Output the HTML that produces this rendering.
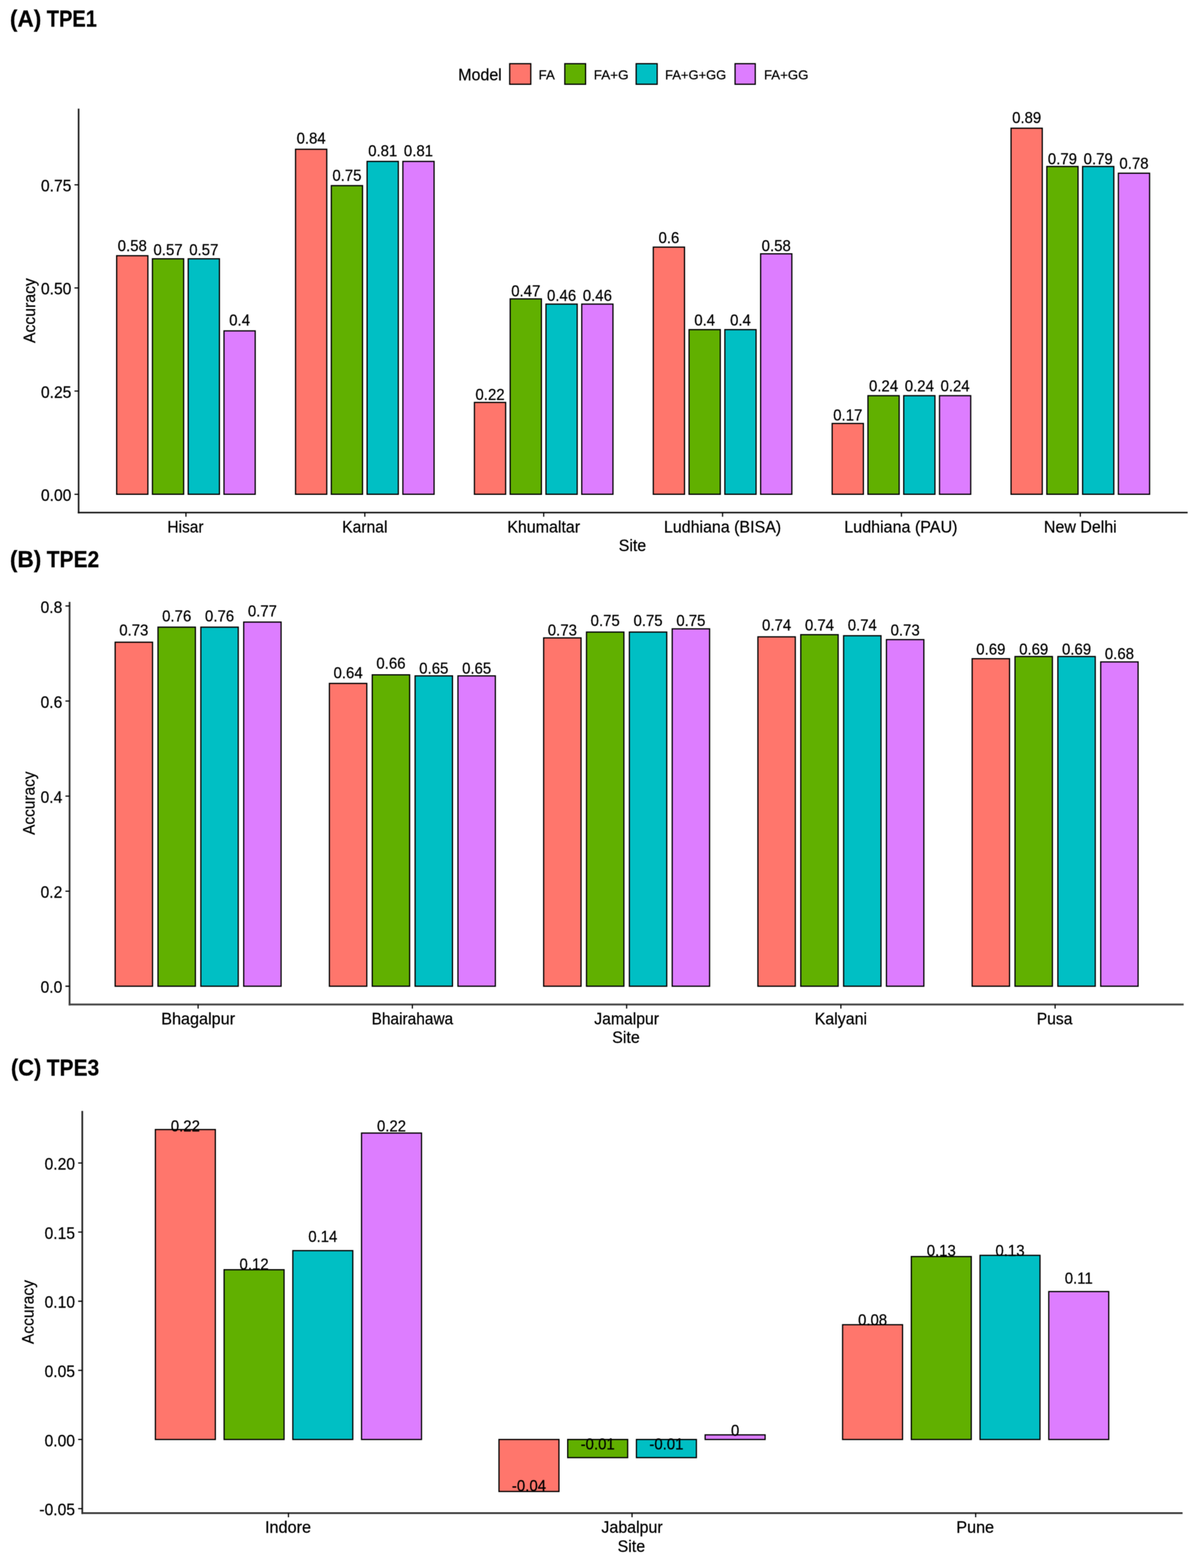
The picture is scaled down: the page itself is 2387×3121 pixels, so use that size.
<!DOCTYPE html>
<html lang="en">
<head>
<meta charset="utf-8">
<title>Prediction accuracy by site: TPE1, TPE2, TPE3</title>
<style>
html, body { margin: 0; padding: 0; background: #fff; }
body { width: 2387px; height: 3121px; overflow: hidden; }
svg { display: block; font-family: "Liberation Sans", Arial, Helvetica, sans-serif; }
#chart { filter: url(#soft); }
text { stroke: #000; stroke-width: 0.4px; }
rect { stroke: #000; stroke-width: 2.4px; stroke-linejoin: miter; }
.ax { fill: none; stroke: #000; stroke-width: 3.0px; stroke-linecap: butt; }
.tk { fill: none; stroke: #000; stroke-width: 2.3px; stroke-linecap: butt; }
.ttl { font-size: 46px; font-weight: bold; fill: #000; }
.lab { font-size: 30.99px; text-anchor: middle; fill: #000; }
.xt { font-size: 33.07px; text-anchor: middle; fill: #000; }
.yt { font-size: 33.07px; text-anchor: end; fill: #000; }
.lg { font-size: 26.56px; text-anchor: start; fill: #000; }
</style>
</head>
<body>
<svg width="2387" height="3121" viewBox="0 0 2387 3121">
<defs><filter id="soft" x="0" y="0" width="2387" height="3121" filterUnits="userSpaceOnUse" color-interpolation-filters="sRGB"><feConvolveMatrix order="3" kernelMatrix="0.04 0.12 0.04 0.12 0.36 0.12 0.04 0.12 0.04" divisor="1" edgeMode="duplicate" preserveAlpha="false"/></filter></defs>
<rect x="0" y="0" width="2387" height="3121" fill="#fff" style="stroke:none"/>
<g id="chart">
<text class="ttl" y="52.9"><tspan x="19.7" textLength="62.5" lengthAdjust="spacingAndGlyphs">(A)</tspan> <tspan x="93.0" textLength="100.0" lengthAdjust="spacingAndGlyphs">TPE1</tspan></text>
<rect x="232.26" y="509.00" width="62.14" height="474.80" fill="#FF766C"/>
<rect x="303.49" y="515.10" width="62.14" height="468.70" fill="#61B000"/>
<rect x="374.71" y="515.10" width="62.14" height="468.70" fill="#00BFC4"/>
<rect x="445.93" y="658.60" width="62.14" height="325.20" fill="#DD7DFF"/>
<rect x="588.38" y="297.10" width="62.14" height="686.70" fill="#FF766C"/>
<rect x="659.60" y="369.50" width="62.14" height="614.30" fill="#61B000"/>
<rect x="730.82" y="321.30" width="62.14" height="662.50" fill="#00BFC4"/>
<rect x="802.04" y="321.30" width="62.14" height="662.50" fill="#DD7DFF"/>
<rect x="944.49" y="801.00" width="62.14" height="182.80" fill="#FF766C"/>
<rect x="1015.71" y="594.90" width="62.14" height="388.90" fill="#61B000"/>
<rect x="1086.93" y="605.30" width="62.14" height="378.50" fill="#00BFC4"/>
<rect x="1158.16" y="605.30" width="62.14" height="378.50" fill="#DD7DFF"/>
<rect x="1300.60" y="491.90" width="62.14" height="491.90" fill="#FF766C"/>
<rect x="1371.82" y="656.10" width="62.14" height="327.70" fill="#61B000"/>
<rect x="1443.05" y="656.10" width="62.14" height="327.70" fill="#00BFC4"/>
<rect x="1514.27" y="505.20" width="62.14" height="478.60" fill="#DD7DFF"/>
<rect x="1656.71" y="842.90" width="62.14" height="140.90" fill="#FF766C"/>
<rect x="1727.94" y="787.60" width="62.14" height="196.20" fill="#61B000"/>
<rect x="1799.16" y="787.60" width="62.14" height="196.20" fill="#00BFC4"/>
<rect x="1870.38" y="787.60" width="62.14" height="196.20" fill="#DD7DFF"/>
<rect x="2012.83" y="255.20" width="62.14" height="728.60" fill="#FF766C"/>
<rect x="2084.05" y="331.40" width="62.14" height="652.40" fill="#61B000"/>
<rect x="2155.27" y="331.40" width="62.14" height="652.40" fill="#00BFC4"/>
<rect x="2226.50" y="344.80" width="62.14" height="639.00" fill="#DD7DFF"/>
<text class="lab" x="263.33" y="499.95" textLength="58.00" lengthAdjust="spacingAndGlyphs">0.58</text>
<text class="lab" x="334.56" y="508.16" textLength="58.00" lengthAdjust="spacingAndGlyphs">0.57</text>
<text class="lab" x="405.78" y="508.16" textLength="58.00" lengthAdjust="spacingAndGlyphs">0.57</text>
<text class="lab" x="477.00" y="647.78" textLength="41.43" lengthAdjust="spacingAndGlyphs">0.4</text>
<text class="lab" x="619.45" y="286.41" textLength="58.00" lengthAdjust="spacingAndGlyphs">0.84</text>
<text class="lab" x="690.67" y="360.33" textLength="58.00" lengthAdjust="spacingAndGlyphs">0.75</text>
<text class="lab" x="761.89" y="311.05" textLength="58.00" lengthAdjust="spacingAndGlyphs">0.81</text>
<text class="lab" x="833.11" y="311.05" textLength="58.00" lengthAdjust="spacingAndGlyphs">0.81</text>
<text class="lab" x="975.56" y="795.61" textLength="58.00" lengthAdjust="spacingAndGlyphs">0.22</text>
<text class="lab" x="1046.78" y="590.29" textLength="58.00" lengthAdjust="spacingAndGlyphs">0.47</text>
<text class="lab" x="1118.00" y="598.50" textLength="58.00" lengthAdjust="spacingAndGlyphs">0.46</text>
<text class="lab" x="1189.23" y="598.50" textLength="58.00" lengthAdjust="spacingAndGlyphs">0.46</text>
<text class="lab" x="1331.67" y="483.52" textLength="41.43" lengthAdjust="spacingAndGlyphs">0.6</text>
<text class="lab" x="1402.90" y="647.78" textLength="41.43" lengthAdjust="spacingAndGlyphs">0.4</text>
<text class="lab" x="1474.12" y="647.78" textLength="41.43" lengthAdjust="spacingAndGlyphs">0.4</text>
<text class="lab" x="1545.34" y="499.95" textLength="58.00" lengthAdjust="spacingAndGlyphs">0.58</text>
<text class="lab" x="1687.79" y="836.68" textLength="58.00" lengthAdjust="spacingAndGlyphs">0.17</text>
<text class="lab" x="1759.01" y="779.19" textLength="58.00" lengthAdjust="spacingAndGlyphs">0.24</text>
<text class="lab" x="1830.23" y="779.19" textLength="58.00" lengthAdjust="spacingAndGlyphs">0.24</text>
<text class="lab" x="1901.45" y="779.19" textLength="58.00" lengthAdjust="spacingAndGlyphs">0.24</text>
<text class="lab" x="2043.90" y="245.34" textLength="58.00" lengthAdjust="spacingAndGlyphs">0.89</text>
<text class="lab" x="2115.12" y="327.47" textLength="58.00" lengthAdjust="spacingAndGlyphs">0.79</text>
<text class="lab" x="2186.34" y="327.47" textLength="58.00" lengthAdjust="spacingAndGlyphs">0.79</text>
<text class="lab" x="2257.57" y="335.69" textLength="58.00" lengthAdjust="spacingAndGlyphs">0.78</text>
<path class="ax" style="stroke:#222;stroke-width:3.3px" d="M156.50 216.30V1021.65"/>
<path class="ax" style="stroke:#111;stroke-width:2.9px" d="M154.85 1020.20H2364.40"/>
<text class="yt" x="142.10" y="997.10" textLength="60.66" lengthAdjust="spacingAndGlyphs">0.00</text>
<text class="yt" x="142.10" y="791.77" textLength="60.66" lengthAdjust="spacingAndGlyphs">0.25</text>
<text class="yt" x="142.10" y="586.45" textLength="60.66" lengthAdjust="spacingAndGlyphs">0.50</text>
<text class="yt" x="142.10" y="381.13" textLength="60.66" lengthAdjust="spacingAndGlyphs">0.75</text>
<text class="xt" x="369.27" y="1059.60" textLength="71.83" lengthAdjust="spacingAndGlyphs">Hisar</text>
<text class="xt" x="726.28" y="1059.60" textLength="90.09" lengthAdjust="spacingAndGlyphs">Karnal</text>
<text class="xt" x="1082.39" y="1059.60" textLength="144.94" lengthAdjust="spacingAndGlyphs">Khumaltar</text>
<text class="xt" x="1438.51" y="1059.60" textLength="233.35" lengthAdjust="spacingAndGlyphs">Ludhiana (BISA)</text>
<text class="xt" x="1793.52" y="1059.60" textLength="225.48" lengthAdjust="spacingAndGlyphs">Ludhiana (PAU)</text>
<text class="xt" x="2150.73" y="1059.60" textLength="144.92" lengthAdjust="spacingAndGlyphs">New Delhi</text>
<path class="tk" d="M148.30 983.80H156.50M148.30 778.47H156.50M148.30 573.15H156.50M148.30 367.83H156.50M370.17 1020.20V1028.40M726.28 1020.20V1028.40M1082.39 1020.20V1028.40M1438.51 1020.20V1028.40M1794.62 1020.20V1028.40M2150.73 1020.20V1028.40"/>
<text class="xt" x="1259.15" y="1097.10" textLength="54.80" lengthAdjust="spacingAndGlyphs">Site</text>
<text class="xt" x="0.00" y="0.00" textLength="129.07" lengthAdjust="spacingAndGlyphs" transform="translate(69.8 618.25) rotate(-90)">Accuracy</text>
<text class="xt" x="912.30" y="160.20" textLength="86.62" lengthAdjust="spacingAndGlyphs" style="text-anchor:start">Model</text>
<rect x="1014.70" y="126.8" width="42.0" height="40.9" fill="#FF766C"/>
<text class="lg" x="1072.30" y="157.90" textLength="32.16" lengthAdjust="spacingAndGlyphs">FA</text>
<rect x="1124.40" y="126.8" width="41.4" height="40.9" fill="#61B000"/>
<text class="lg" x="1182.00" y="157.90" textLength="69.33" lengthAdjust="spacingAndGlyphs">FA+G</text>
<rect x="1266.50" y="126.8" width="41.8" height="40.9" fill="#00BFC4"/>
<text class="lg" x="1324.10" y="157.90" textLength="121.76" lengthAdjust="spacingAndGlyphs">FA+G+GG</text>
<rect x="1463.40" y="126.8" width="40.2" height="40.9" fill="#DD7DFF"/>
<text class="lg" x="1521.00" y="157.90" textLength="88.43" lengthAdjust="spacingAndGlyphs">FA+GG</text>
<text class="ttl" y="1128.8"><tspan x="19.7" textLength="62.5" lengthAdjust="spacingAndGlyphs">(B)</tspan> <tspan x="93.0" textLength="104.5" lengthAdjust="spacingAndGlyphs">TPE2</tspan></text>
<rect x="229.25" y="1278.30" width="74.43" height="684.70" fill="#FF766C"/>
<rect x="314.55" y="1248.30" width="74.43" height="714.70" fill="#61B000"/>
<rect x="399.86" y="1248.30" width="74.43" height="714.70" fill="#00BFC4"/>
<rect x="485.17" y="1238.20" width="74.43" height="724.80" fill="#DD7DFF"/>
<rect x="655.78" y="1360.30" width="74.43" height="602.70" fill="#FF766C"/>
<rect x="741.09" y="1343.20" width="74.43" height="619.80" fill="#61B000"/>
<rect x="826.40" y="1345.30" width="74.43" height="617.70" fill="#00BFC4"/>
<rect x="911.71" y="1345.30" width="74.43" height="617.70" fill="#DD7DFF"/>
<rect x="1082.32" y="1269.70" width="74.43" height="693.30" fill="#FF766C"/>
<rect x="1167.63" y="1258.10" width="74.43" height="704.90" fill="#61B000"/>
<rect x="1252.94" y="1258.10" width="74.43" height="704.90" fill="#00BFC4"/>
<rect x="1338.25" y="1251.70" width="74.43" height="711.30" fill="#DD7DFF"/>
<rect x="1508.86" y="1267.60" width="74.43" height="695.40" fill="#FF766C"/>
<rect x="1594.17" y="1263.30" width="74.43" height="699.70" fill="#61B000"/>
<rect x="1679.48" y="1265.40" width="74.43" height="697.60" fill="#00BFC4"/>
<rect x="1764.78" y="1273.10" width="74.43" height="689.90" fill="#DD7DFF"/>
<rect x="1935.40" y="1311.10" width="74.43" height="651.90" fill="#FF766C"/>
<rect x="2020.71" y="1306.80" width="74.43" height="656.20" fill="#61B000"/>
<rect x="2106.02" y="1306.80" width="74.43" height="656.20" fill="#00BFC4"/>
<rect x="2191.32" y="1317.50" width="74.43" height="645.50" fill="#DD7DFF"/>
<text class="lab" x="266.46" y="1264.92" textLength="58.00" lengthAdjust="spacingAndGlyphs">0.73</text>
<text class="lab" x="351.77" y="1236.54" textLength="58.00" lengthAdjust="spacingAndGlyphs">0.76</text>
<text class="lab" x="437.08" y="1236.54" textLength="58.00" lengthAdjust="spacingAndGlyphs">0.76</text>
<text class="lab" x="522.38" y="1227.08" textLength="58.00" lengthAdjust="spacingAndGlyphs">0.77</text>
<text class="lab" x="693.00" y="1350.06" textLength="58.00" lengthAdjust="spacingAndGlyphs">0.64</text>
<text class="lab" x="778.31" y="1331.14" textLength="58.00" lengthAdjust="spacingAndGlyphs">0.66</text>
<text class="lab" x="863.62" y="1340.60" textLength="58.00" lengthAdjust="spacingAndGlyphs">0.65</text>
<text class="lab" x="948.92" y="1340.60" textLength="58.00" lengthAdjust="spacingAndGlyphs">0.65</text>
<text class="lab" x="1119.54" y="1264.92" textLength="58.00" lengthAdjust="spacingAndGlyphs">0.73</text>
<text class="lab" x="1204.85" y="1246.00" textLength="58.00" lengthAdjust="spacingAndGlyphs">0.75</text>
<text class="lab" x="1290.15" y="1246.00" textLength="58.00" lengthAdjust="spacingAndGlyphs">0.75</text>
<text class="lab" x="1375.46" y="1246.00" textLength="58.00" lengthAdjust="spacingAndGlyphs">0.75</text>
<text class="lab" x="1546.08" y="1255.46" textLength="58.00" lengthAdjust="spacingAndGlyphs">0.74</text>
<text class="lab" x="1631.38" y="1255.46" textLength="58.00" lengthAdjust="spacingAndGlyphs">0.74</text>
<text class="lab" x="1716.69" y="1255.46" textLength="58.00" lengthAdjust="spacingAndGlyphs">0.74</text>
<text class="lab" x="1802.00" y="1264.92" textLength="58.00" lengthAdjust="spacingAndGlyphs">0.73</text>
<text class="lab" x="1972.62" y="1302.76" textLength="58.00" lengthAdjust="spacingAndGlyphs">0.69</text>
<text class="lab" x="2057.92" y="1302.76" textLength="58.00" lengthAdjust="spacingAndGlyphs">0.69</text>
<text class="lab" x="2143.23" y="1302.76" textLength="58.00" lengthAdjust="spacingAndGlyphs">0.69</text>
<text class="lab" x="2228.54" y="1312.22" textLength="58.00" lengthAdjust="spacingAndGlyphs">0.68</text>
<path class="ax" style="stroke:#333;stroke-width:3.5px" d="M138.50 1198.00V2001.30"/>
<path class="ax" style="stroke:#444;stroke-width:3.8px" d="M136.75 1999.40H2356.50"/>
<text class="yt" x="124.10" y="1976.30" textLength="43.32" lengthAdjust="spacingAndGlyphs">0.0</text>
<text class="yt" x="124.10" y="1787.10" textLength="43.32" lengthAdjust="spacingAndGlyphs">0.2</text>
<text class="yt" x="124.10" y="1597.90" textLength="43.32" lengthAdjust="spacingAndGlyphs">0.4</text>
<text class="yt" x="124.10" y="1408.70" textLength="43.32" lengthAdjust="spacingAndGlyphs">0.6</text>
<text class="yt" x="124.10" y="1219.50" textLength="43.32" lengthAdjust="spacingAndGlyphs">0.8</text>
<text class="xt" x="394.42" y="2038.80" textLength="147.02" lengthAdjust="spacingAndGlyphs">Bhagalpur</text>
<text class="xt" x="820.96" y="2038.80" textLength="162.58" lengthAdjust="spacingAndGlyphs">Bhairahawa</text>
<text class="xt" x="1247.50" y="2038.80" textLength="128.96" lengthAdjust="spacingAndGlyphs">Jamalpur</text>
<text class="xt" x="1674.04" y="2038.80" textLength="104.30" lengthAdjust="spacingAndGlyphs">Kalyani</text>
<text class="xt" x="2099.48" y="2038.80" textLength="71.03" lengthAdjust="spacingAndGlyphs">Pusa</text>
<path class="tk" d="M130.30 1963.00H138.50M130.30 1773.80H138.50M130.30 1584.60H138.50M130.30 1395.40H138.50M130.30 1206.20H138.50M394.42 1999.40V2007.60M820.96 1999.40V2007.60M1247.50 1999.40V2007.60M1674.04 1999.40V2007.60M2100.58 1999.40V2007.60"/>
<text class="xt" x="1246.20" y="2076.30" textLength="54.80" lengthAdjust="spacingAndGlyphs">Site</text>
<text class="xt" x="0.00" y="0.00" textLength="126.20" lengthAdjust="spacingAndGlyphs" transform="translate(69.3 1598.70) rotate(-90)">Accuracy</text>
<text class="ttl" y="2140.6"><tspan x="21.8" textLength="60.5" lengthAdjust="spacingAndGlyphs">(C)</tspan> <tspan x="93.0" textLength="104.5" lengthAdjust="spacingAndGlyphs">TPE3</tspan></text>
<rect x="309.33" y="2248.30" width="119.37" height="616.90" fill="#FF766C"/>
<rect x="446.15" y="2527.30" width="119.37" height="337.90" fill="#61B000"/>
<rect x="582.96" y="2489.30" width="119.37" height="375.90" fill="#00BFC4"/>
<rect x="719.77" y="2255.30" width="119.37" height="609.90" fill="#DD7DFF"/>
<rect x="993.40" y="2865.20" width="119.37" height="103.50" fill="#FF766C"/>
<rect x="1130.21" y="2865.20" width="119.37" height="36.10" fill="#61B000"/>
<rect x="1267.02" y="2865.20" width="119.37" height="36.10" fill="#00BFC4"/>
<rect x="1403.83" y="2856.00" width="119.37" height="9.20" fill="#DD7DFF"/>
<rect x="1677.46" y="2636.80" width="119.37" height="228.40" fill="#FF766C"/>
<rect x="1814.27" y="2501.10" width="119.37" height="364.10" fill="#61B000"/>
<rect x="1951.08" y="2498.70" width="119.37" height="366.50" fill="#00BFC4"/>
<rect x="2087.90" y="2570.80" width="119.37" height="294.40" fill="#DD7DFF"/>
<text class="lab" x="369.02" y="2252.26" textLength="58.00" lengthAdjust="spacingAndGlyphs">0.22</text>
<text class="lab" x="505.83" y="2527.46" textLength="58.00" lengthAdjust="spacingAndGlyphs">0.12</text>
<text class="lab" x="642.64" y="2472.42" textLength="58.00" lengthAdjust="spacingAndGlyphs">0.14</text>
<text class="lab" x="779.46" y="2252.26" textLength="58.00" lengthAdjust="spacingAndGlyphs">0.22</text>
<text class="lab" x="1053.08" y="2967.78" textLength="67.93" lengthAdjust="spacingAndGlyphs">-0.04</text>
<text class="lab" x="1189.89" y="2885.22" textLength="67.93" lengthAdjust="spacingAndGlyphs">-0.01</text>
<text class="lab" x="1326.71" y="2885.22" textLength="67.93" lengthAdjust="spacingAndGlyphs">-0.01</text>
<text class="lab" x="1463.52" y="2857.70" textLength="16.57" lengthAdjust="spacingAndGlyphs">0</text>
<text class="lab" x="1737.14" y="2637.54" textLength="58.00" lengthAdjust="spacingAndGlyphs">0.08</text>
<text class="lab" x="1873.96" y="2499.94" textLength="58.00" lengthAdjust="spacingAndGlyphs">0.13</text>
<text class="lab" x="2010.77" y="2499.94" textLength="58.00" lengthAdjust="spacingAndGlyphs">0.13</text>
<text class="lab" x="2147.58" y="2554.98" textLength="55.79" lengthAdjust="spacingAndGlyphs">0.11</text>
<path class="ax" style="stroke:#222;stroke-width:3.3px" d="M163.80 2211.20V3013.55"/>
<path class="ax" style="stroke:#333;stroke-width:3.5px" d="M162.15 3011.80H2354.30"/>
<text class="yt" x="149.40" y="3016.10" textLength="71.03" lengthAdjust="spacingAndGlyphs">-0.05</text>
<text class="yt" x="149.40" y="2878.50" textLength="60.66" lengthAdjust="spacingAndGlyphs">0.00</text>
<text class="yt" x="149.40" y="2740.90" textLength="60.66" lengthAdjust="spacingAndGlyphs">0.05</text>
<text class="yt" x="149.40" y="2603.30" textLength="60.66" lengthAdjust="spacingAndGlyphs">0.10</text>
<text class="yt" x="149.40" y="2465.70" textLength="60.66" lengthAdjust="spacingAndGlyphs">0.15</text>
<text class="yt" x="149.40" y="2328.10" textLength="60.66" lengthAdjust="spacingAndGlyphs">0.20</text>
<text class="xt" x="573.44" y="3051.20" textLength="91.61" lengthAdjust="spacingAndGlyphs">Indore</text>
<text class="xt" x="1258.30" y="3051.20" textLength="121.99" lengthAdjust="spacingAndGlyphs">Jabalpur</text>
<text class="xt" x="1941.36" y="3051.20" textLength="75.38" lengthAdjust="spacingAndGlyphs">Pune</text>
<path class="tk" d="M155.60 3002.80H163.80M155.60 2865.20H163.80M155.60 2727.60H163.80M155.60 2590.00H163.80M155.60 2452.40H163.80M155.60 2314.80H163.80M574.24 3011.80V3020.00M1258.30 3011.80V3020.00M1942.36 3011.80V3020.00"/>
<text class="xt" x="1257.00" y="3088.70" textLength="54.80" lengthAdjust="spacingAndGlyphs">Site</text>
<text class="xt" x="0.00" y="0.00" textLength="127.37" lengthAdjust="spacingAndGlyphs" transform="translate(66.9 2611.50) rotate(-90)">Accuracy</text>
</g>
</svg>
</body>
</html>
